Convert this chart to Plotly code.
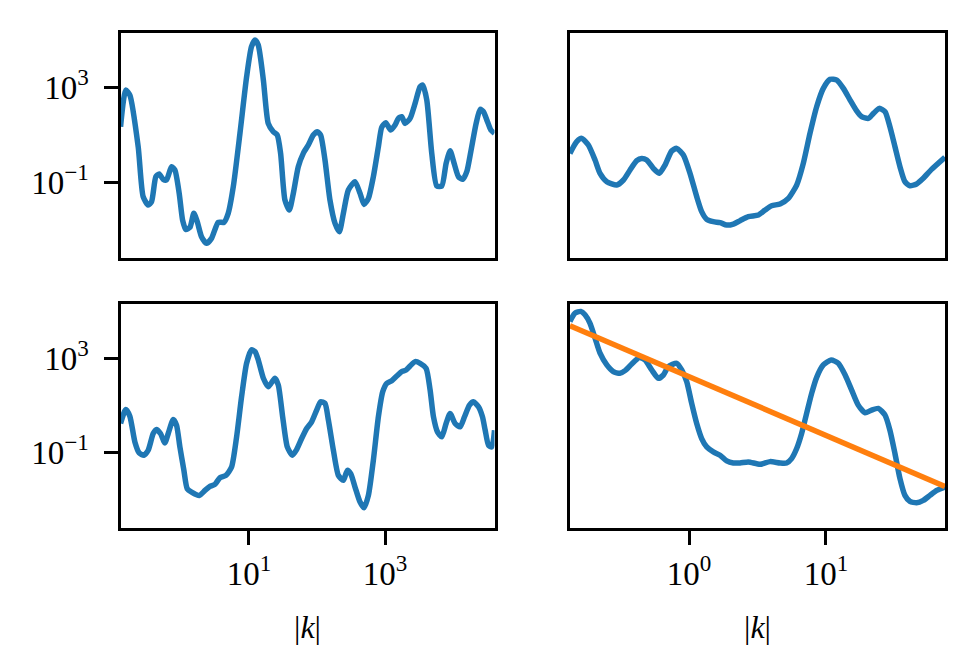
import plotly.graph_objects as go

# ---------------- data ----------------
k_tl = [0.130, 0.155, 0.178, 0.236, 0.279, 0.331, 0.371, 0.429, 0.480, 0.550, 0.615, 0.729, 0.817, 0.945,
        1.06, 1.18, 1.36, 1.55, 1.74, 2.01, 2.38, 2.82, 3.54, 4.29, 4.96, 5.89, 7.38, 9.25, 10.9, 12.3,
        13.7, 16.3, 19.2, 22.8, 26.1, 29.2, 33.8, 39.2, 44.9, 53.1, 62.9, 74.6, 88.3, 101, 113, 131, 155,
        184, 213, 244, 289, 362, 429, 491, 569, 673, 798, 893, 1023, 1211, 1403, 1570, 1758, 1968, 2333,
        2762, 3273, 3580, 4102, 4855, 5754, 6813, 7890, 9036, 10350, 11980, 13870, 15880, 18190, 21790,
        24950, 27920, 31990, 35810, 40550]
P_tl = [22.5, 795, 490, 3.2, 0.0248, 0.0110, 0.0152, 0.173, 0.225, 0.134, 0.126, 0.459, 0.332, 0.0343,
        0.00256, 0.00103, 0.00126, 0.0049, 0.00218, 0.000506, 0.000265, 0.00043, 0.00204, 0.00204, 0.0049,
        0.0656, 11.7, 2920, 54000, 103000, 63500, 2110, 31.1, 13.8, 10, 1.68, 0.0179, 0.00678, 0.0343,
        0.459, 1.68, 3.78, 10, 13.8, 10, 0.879, 0.0179, 0.00185, 0.000822, 0.0049, 0.0474, 0.107, 0.0343,
        0.0117, 0.0211, 0.173, 3.21, 21.1, 33.2, 16.3, 26.5, 50.6, 59.6, 31.1, 50.6, 218, 1100, 1297, 301,
        1.68, 0.070, 0.070, 0.635, 2.18, 0.635, 0.173, 0.134, 0.283, 1.98, 31.1, 122, 96.8, 36.6, 16.3, 11.7]

k_tr = [0.135, 0.1514, 0.1647, 0.1841, 0.206, 0.224, 0.251, 0.2965, 0.332, 0.371, 0.415, 0.451, 0.491,
        0.549, 0.607, 0.668, 0.747, 0.813, 0.909, 1.017, 1.138, 1.237, 1.346, 1.505, 1.684, 1.884, 2.107,
        2.357, 2.71, 3.21, 3.59, 4.01, 4.62, 5.31, 6.11, 6.83, 7.64, 8.55, 9.56, 10.7, 12.0, 13.4, 15.0,
        16.7, 18.2, 20.4, 22.2, 24.5, 27.0, 29.3, 31.9, 34.7, 37.7, 41.0, 45.9, 51.3, 59.0, 73.9]
P_tr = [1.68, 5.22, 7.23, 3.78, 0.879, 0.240, 0.107, 0.0771, 0.1256, 0.332, 0.823, 1.03, 0.879, 0.391,
        0.240, 0.540, 2.11, 2.73, 1.43, 0.240, 0.0248, 0.00577, 0.00274, 0.00218, 0.00198, 0.00157,
        0.00173, 0.0024, 0.00354, 0.00417, 0.00678, 0.0103, 0.0122, 0.0211, 0.0771, 0.635, 11.7, 157, 937,
        2250, 2110, 937, 301, 107, 59.6, 50.6, 82.2, 134, 96.8, 22.5, 3.21, 0.459, 0.107, 0.0723, 0.0851,
        0.1476, 0.354, 1.15]

k_bl = [0.130, 0.155, 0.178, 0.211, 0.244, 0.286, 0.331, 0.392, 0.438, 0.502, 0.582, 0.652, 0.771, 0.863,
        0.967, 1.107, 1.239, 1.436, 1.86, 2.26, 2.67, 3.16, 3.75, 4.59, 5.56, 6.59, 7.80, 9.24, 10.9, 12.3,
        13.7, 16.3, 19.2, 21.5, 24.1, 27.0, 31.3, 36.6, 43.4, 50.2, 59.5, 70.5, 83.5, 98.9, 113, 131, 147,
        174, 206, 244, 279, 313, 362, 429, 491, 569, 673, 798, 925, 1059, 1254, 1486, 1758, 2037, 2333,
        2762, 3273, 4010, 4592, 5140, 5888, 6813, 7890, 9036, 10690, 12680, 14690, 17390, 19910, 23580,
        26980, 29580, 33130, 37070, 40550]
P_bl = [1.71, 6.76, 3.51, 0.284, 0.0968, 0.0771, 0.1256, 0.644, 0.953, 0.644, 0.258, 0.644, 2.54, 1.46,
        0.174, 0.0177, 0.00294, 0.00212, 0.00153, 0.00249, 0.00369, 0.00449, 0.00863, 0.0108, 0.0245,
        0.464, 23.4, 612, 2265, 1923, 849, 141, 62.2, 92.3, 141, 73.3, 3.30, 0.174, 0.0771, 0.134, 0.394,
        1.05, 2.02, 6.32, 14.3, 12.2, 2.38, 0.1256, 0.0108, 0.00665, 0.0177, 0.01277, 0.00346, 0.000796,
        0.000457, 0.00153, 0.0472, 3.30, 38.2, 86.3, 112, 177, 271, 319, 472, 721, 612, 375, 44.9, 3.30,
        0.757, 0.464, 1.71, 4.57, 1.71, 1.24, 3.30, 10.3, 14.3, 8.77, 3.30, 0.891, 0.205, 0.174, 0.891]

k_br = [0.135, 0.147, 0.162, 0.174, 0.189, 0.206, 0.224, 0.251, 0.280, 0.313, 0.341, 0.382, 0.434, 0.477,
        0.534, 0.597, 0.650, 0.706, 0.813, 0.884, 0.962, 1.046, 1.138, 1.237, 1.346, 1.505, 1.684, 1.884,
        2.107, 2.357, 2.71, 3.30, 3.90, 4.62, 5.16, 5.61, 6.11, 6.64, 7.22, 7.86, 8.55, 9.56, 10.9, 12.3,
        13.8, 15.4, 17.2, 19.3, 21.5, 24.1, 27.0, 29.3, 31.9, 34.7, 37.7, 41.0, 45.9, 51.3, 57.4, 64.3, 73.9]
P_br = [36300, 82200, 96800, 69800, 30800, 7100, 1632, 520, 271, 230, 298, 574, 1067, 849, 319, 141, 195,
        442, 612, 319, 102, 12.2, 1.71, 0.394, 0.174, 0.1066, 0.0771, 0.0442, 0.0363, 0.0363, 0.0401,
        0.0319, 0.0414, 0.0363, 0.0363, 0.0556, 0.148, 0.644, 4.57, 32.4, 155, 520, 849, 612, 195, 44.9,
        10.3, 4.88, 6.32, 7.45, 3.88, 0.891, 0.0906, 0.00783, 0.00153, 0.000849, 0.000745, 0.000938,
        0.00153, 0.00249, 0.00346]

k_fit = [0.135, 73.9]
P_fit = [24000, 0.0037]

y_tickvals = [1e-1, 1e3]
y_ticktext = ["10<sup>\u22121</sup>", "10<sup>3</sup>"]
xl_tickvals = [1e1, 1e3]
xl_ticktext = ["10<sup>1</sup>", "10<sup>3</sup>"]
xr_tickvals = [1e0, 1e1]
xr_ticktext = ["10<sup>0</sup>", "10<sup>1</sup>"]
x_label = "|<i>k</i>|"

# ---------------- figure ----------------
W, H = 977, 669
BLUE = "#1f77b4"
ORANGE = "#ff7f0e"
FONT = "Liberation Serif, Times New Roman, serif"
LW = 5.5

fig = go.Figure()

def add_line(x, y, ax, color):
    fig.add_trace(go.Scatter(x=x, y=y, xaxis="x" + ax, yaxis="y" + ax, mode="lines",
                             line=dict(color=color, width=LW, shape="spline", smoothing=0.6),
                             showlegend=False, hoverinfo="skip"))

add_line(k_tl, P_tl, "", BLUE)
add_line(k_tr, P_tr, "2", BLUE)
add_line(k_bl, P_bl, "3", BLUE)
add_line(k_br, P_br, "4", BLUE)
add_line(k_fit, P_fit, "4", ORANGE)

# domains from pixel frames
xl_dom = [120.5 / W, 494.5 / W]
xr_dom = [570.0 / W, 945.0 / W]
yt_dom = [1 - 258.3 / H, 1 - 33.3 / H]
yb_dom = [1 - 528.3 / H, 1 - 304.0 / H]

yrange = [-4.21, 5.30]
xl_range = [-0.887, 4.608]
xr_range = [-0.869, 1.869]

tickfont = dict(family=FONT, size=33, color="black")

def axis(domain, anchor, rng, tickvals=None, ticktext=None, show=False):
    d = dict(type="log", domain=domain, anchor=anchor, range=rng,
             showline=True, mirror=True, linecolor="black", linewidth=3,
             showgrid=False, zeroline=False, tickfont=tickfont)
    if show:
        d.update(ticks="outside", ticklen=14, tickwidth=3, tickcolor="black",
                 tickmode="array", tickvals=tickvals, ticktext=ticktext, showticklabels=True)
    else:
        d.update(ticks="", showticklabels=False)
    return d

fig.update_layout(
    width=W, height=H, autosize=False,
    margin=dict(l=0, r=0, t=0, b=0),
    paper_bgcolor="white", plot_bgcolor="white",
    font=dict(family=FONT, color="black", size=33),
    xaxis=axis(xl_dom, "y", xl_range),
    yaxis=axis(yt_dom, "x", yrange, y_tickvals, y_ticktext, True),
    xaxis2=axis(xr_dom, "y2", xr_range),
    yaxis2=axis(yt_dom, "x2", yrange),
    xaxis3=axis(xl_dom, "y3", xl_range, xl_tickvals, xl_ticktext, True),
    yaxis3=axis(yb_dom, "x3", yrange, y_tickvals, y_ticktext, True),
    xaxis4=axis(xr_dom, "y4", xr_range, xr_tickvals, xr_ticktext, True),
    yaxis4=axis(yb_dom, "x4", yrange),
)
for ax in ["yaxis", "yaxis3"]:
    fig.layout[ax].ticklabelstandoff = 8
for ax in ["xaxis3", "xaxis4"]:
    fig.layout[ax].ticklabelstandoff = 0

for xc in [(xl_dom[0] + xl_dom[1]) / 2, (xr_dom[0] + xr_dom[1]) / 2]:
    fig.add_annotation(text=x_label, x=xc, y=1 - 627 / H, xref="paper", yref="paper",
                       xanchor="center", yanchor="middle", showarrow=False,
                       font=dict(family=FONT, size=32, color="black"))

fig.write_html("out.html")
